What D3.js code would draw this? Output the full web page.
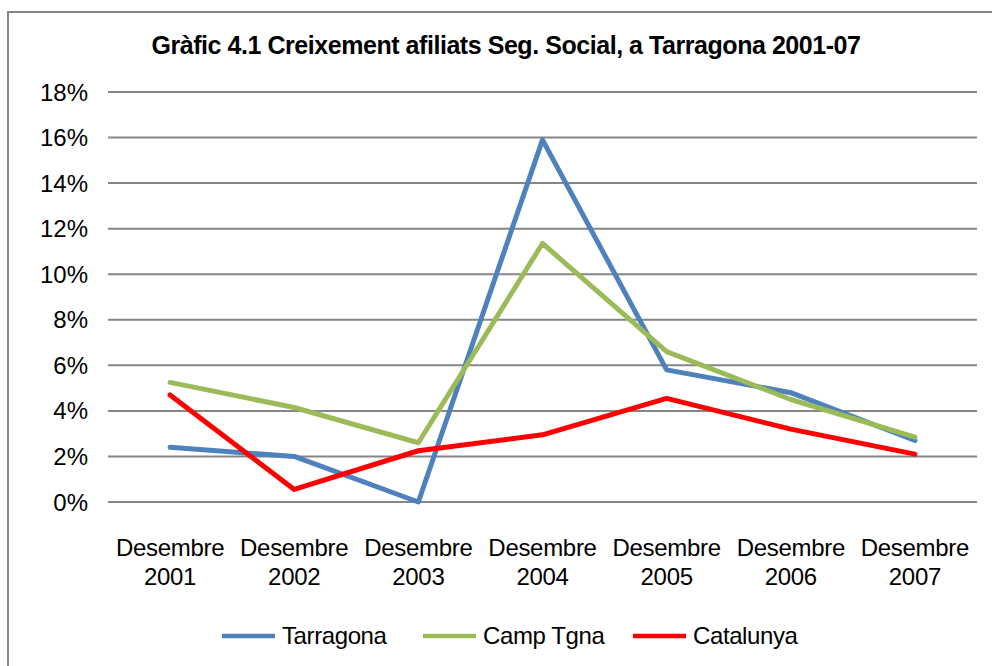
<!DOCTYPE html>
<html><head><meta charset="utf-8">
<script src="https://cdn.jsdelivr.net/npm/d3@7"></script>
<style>body{margin:0;background:#fff}svg{display:block}text{font-family:"Liberation Sans",Arial,sans-serif}</style>
</head><body>
<svg id="c" width="992" height="666"></svg>
<script>
const title = "Gràfic 4.1 Creixement  afiliats Seg. Social, a Tarragona 2001-07";
const categories = ["Desembre 2001","Desembre 2002","Desembre 2003","Desembre 2004","Desembre 2005","Desembre 2006","Desembre 2007"];
const yTicks = [0,2,4,6,8,10,12,14,16,18];
const seriesNames = ["Tarragona","Camp Tgna","Catalunya"];
const seriesColors = ["#4F81BD","#9BBB59","#FF0000"];
const tarragona = [2.4, 2.0, 0.0, 15.9, 5.8, 4.8, 2.7];
const campTgna  = [5.25, 4.15, 2.6, 11.35, 6.6, 4.5, 2.85];
const catalunya = [4.7, 0.55, 2.25, 2.95, 4.55, 3.2, 2.1];
const seriesValues = [tarragona, campTgna, catalunya];

const svg = d3.select("#c");
svg.append("rect").attr("x",8).attr("y",12).attr("width",1000).attr("height",700)
  .attr("fill","#fff").attr("stroke","#868686").attr("stroke-width",2);

const L=108, R=977, T=92, B=502;
const x = d3.scaleBand().domain(categories).range([L,R]);
const y = d3.scaleLinear().domain([0,18]).range([B,T]);

svg.append("text").attr("x",506).attr("y",54).attr("text-anchor","middle")
  .attr("font-size",25).attr("font-weight","bold").attr("letter-spacing",-0.45).text(title);

// grid
svg.append("g").selectAll("line").data(yTicks).join("line")
  .attr("x1",L).attr("x2",R).attr("y1",d=>y(d)).attr("y2",d=>y(d))
  .attr("stroke","#868686").attr("stroke-width",2);

// y labels
svg.append("g").selectAll("text").data(yTicks).join("text")
  .attr("x",88).attr("y",d=>y(d)+8.5).attr("text-anchor","end")
  .attr("font-size",24).attr("fill","#000").text(d=>d+"%");

// x labels
const xl = svg.append("g").selectAll("text").data(categories).join("text")
  .attr("x",d=>x(d)+x.bandwidth()/2).attr("text-anchor","middle").attr("font-size",24).attr("letter-spacing",-0.3);
xl.append("tspan").attr("x",d=>x(d)+x.bandwidth()/2).attr("y",556).text(d=>d.split(" ")[0]);
xl.append("tspan").attr("x",d=>x(d)+x.bandwidth()/2).attr("y",585).text(d=>d.split(" ")[1]);

const line = d3.line().x((d,i)=>x(categories[i])+x.bandwidth()/2).y(d=>y(d));
seriesValues.forEach((vals,k)=>{
  svg.append("path").datum(vals).attr("d",line).attr("fill","none")
    .attr("stroke",seriesColors[k]).attr("stroke-width",5).attr("stroke-linejoin","round").attr("stroke-linecap","round");
});

// legend
const legX = [222, 423, 633];
seriesNames.forEach((n,k)=>{
  svg.append("line").attr("x1",legX[k]).attr("x2",legX[k]+53).attr("y1",636).attr("y2",636)
    .attr("stroke",seriesColors[k]).attr("stroke-width",4.5);
  svg.append("text").attr("x",legX[k]+60).attr("y",644).attr("font-size",24).attr("letter-spacing",-0.4).text(n);
});
</script>
</body></html>
